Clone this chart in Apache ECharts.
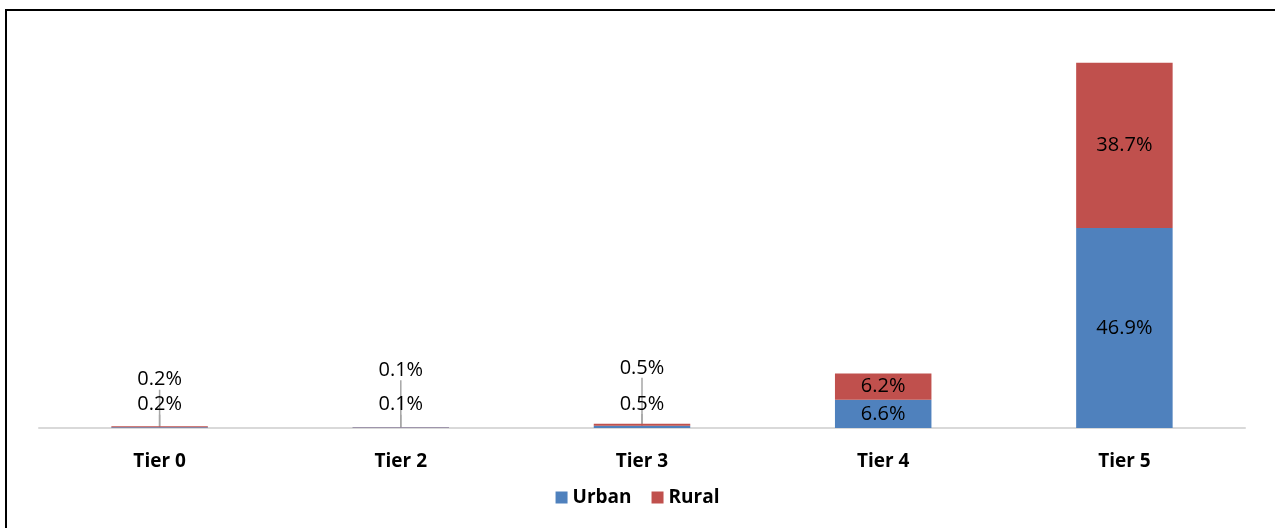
<!DOCTYPE html>
<html>
<head>
<meta charset="utf-8">
<script src="https://cdn.jsdelivr.net/npm/echarts@6/dist/echarts.min.js"></script>
<style>
  html, body { margin: 0; padding: 0; background: #fff; }
  #frame { position: absolute; left: 5px; top: 9px; width: 1300px; height: 560px;
           border-left: 2px solid #000; border-top: 2px solid #000; }
  #main { position: absolute; left: 0; top: 0; width: 1275px; height: 528px; }
</style>
</head>
<body>
<div id="frame"></div>
<div id="main"></div>
<script>
// 分类和数值
const tiers = ['Tier 0', 'Tier 2', 'Tier 3', 'Tier 4', 'Tier 5']
const urban = [0.2, 0.1, 0.5, 6.6, 46.9]
const rural = [0.2, 0.1, 0.5, 6.2, 38.7]

const labelFont = '"Open Sans", Lato, sans-serif'

const myChart = echarts.init(document.getElementById('main'))

// small bars get their labels pushed up, like the Excel original
const moveLabel = function (series) {
  return function (params) {
    if (params.seriesIndex !== series) return {}
    const v = series === 0 ? urban[params.dataIndex] : rural[params.dataIndex]
    if (v >= 2) return {}
    if (series === 0) return { dy: -23 }
    return { dy: params.dataIndex === 0 ? -47 : -57 }
  }
}

myChart.setOption({
  animation: false,
  grid: { left: 39, right: 30, top: 44, bottom: 100 },
  legend: {
    bottom: 16,
    left: 'center',
    itemWidth: 12,
    itemHeight: 12,
    itemGap: 20,
    icon: 'rect',
    textStyle: { fontFamily: labelFont, fontWeight: 'bold', fontSize: 19, color: '#000' },
    data: ['Urban', 'Rural']
  },
  xAxis: {
    type: 'category',
    data: tiers,
    axisLine: { lineStyle: { color: '#d9d9d9', width: 2 } },
    axisTick: { show: false },
    axisLabel: { margin: 24, fontFamily: labelFont, fontWeight: 'bold', fontSize: 19, color: '#000' }
  },
  yAxis: {
    type: 'value',
    min: 0,
    max: 90,
    show: false,
    splitLine: { show: false }
  },
  series: [
    {
      name: 'Urban',
      type: 'bar',
      stack: 'total',
      barWidth: '40%',
      data: urban,
      itemStyle: { color: '#4f81bd' },
      label: {
        show: true,
        position: 'inside',
        formatter: p => p.value.toFixed(1) + '%',
        fontFamily: labelFont,
        fontSize: 20,
        color: '#000'
      },
      labelLine: { show: true, lineStyle: { color: '#a6a6a6', width: 1.5 } },
      labelLayout: moveLabel(0)
    },
    {
      name: 'Rural',
      type: 'bar',
      stack: 'total',
      data: rural,
      itemStyle: { color: '#c0504d' },
      label: {
        show: true,
        position: 'inside',
        formatter: p => p.value.toFixed(1) + '%',
        fontFamily: labelFont,
        fontSize: 20,
        color: '#000'
      },
      labelLine: { show: true, lineStyle: { color: '#a6a6a6', width: 1.5 } },
      labelLayout: moveLabel(1)
    }
  ]
})
</script>
</body>
</html>
